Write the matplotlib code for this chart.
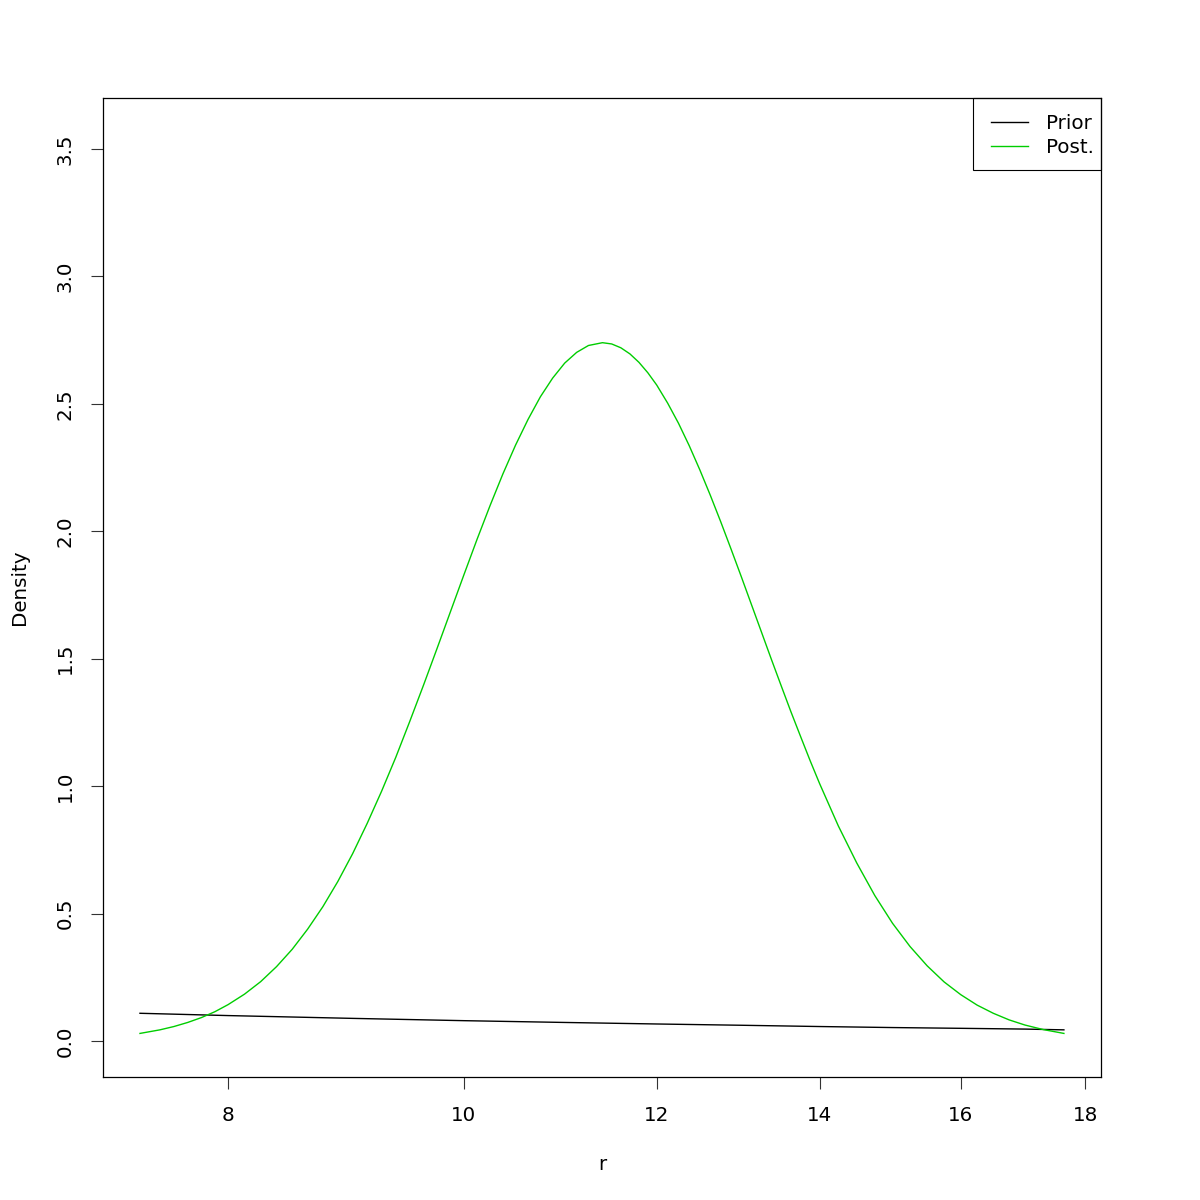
import matplotlib
matplotlib.use("Agg")
import matplotlib.pyplot as plt
from matplotlib.patches import Rectangle
from matplotlib.ticker import FixedLocator, FixedFormatter, NullLocator

# Values
r_post = [7.36, 7.5, 7.6, 7.7, 7.8, 7.9, 8.0, 8.125, 8.25, 8.375, 8.5, 8.625,
          8.75, 8.875, 9.0, 9.125, 9.25, 9.375, 9.5, 9.625, 9.75, 9.875,
          10.0, 10.125, 10.25, 10.375, 10.5, 10.625, 10.75, 10.875, 11.0,
          11.125, 11.25, 11.4, 11.5, 11.6, 11.7, 11.8, 11.9, 12.0, 12.125,
          12.25, 12.375, 12.5, 12.625, 12.75, 12.875, 13.0, 13.125, 13.25,
          13.375, 13.5, 13.625, 13.75, 13.875, 14.0, 14.25, 14.5, 14.75,
          15.0, 15.25, 15.5, 15.75, 16.0, 16.25, 16.5, 16.75, 17.0, 17.3,
          17.64]
dens_post = [0.030, 0.044, 0.057, 0.073, 0.092, 0.115, 0.143, 0.184, 0.233,
             0.292, 0.360, 0.439, 0.527, 0.626, 0.735, 0.854, 0.980, 1.113,
             1.254, 1.397, 1.542, 1.687, 1.830, 1.969, 2.101, 2.225, 2.338,
             2.439, 2.528, 2.601, 2.660, 2.702, 2.729, 2.740, 2.735, 2.720,
             2.696, 2.663, 2.622, 2.574, 2.503, 2.424, 2.336, 2.241, 2.141,
             2.037, 1.930, 1.822, 1.713, 1.605, 1.498, 1.394, 1.292, 1.195,
             1.100, 1.010, 0.844, 0.699, 0.571, 0.462, 0.371, 0.295, 0.232,
             0.182, 0.141, 0.109, 0.083, 0.063, 0.045, 0.030]

r_prior = [7.36, 8.0, 9.0, 10.0, 11.0, 12.0, 13.0, 14.0, 15.0, 16.0, 17.0, 17.64]
dens_prior = [0.109, 0.100, 0.089, 0.080, 0.073, 0.067, 0.062, 0.057,
              0.053, 0.050, 0.047, 0.044]

x_ticks = [8, 10, 12, 14, 16, 18]
y_ticks = [0.0, 0.5, 1.0, 1.5, 2.0, 2.5, 3.0, 3.5]
series_labels = ["Prior", "Post."]

FS = 14.3

fig = plt.figure(figsize=(12, 12), dpi=100)
ax = fig.add_axes([103/1200, 1 - 1077/1200, 998/1200, 979/1200])

ax.plot(r_prior, dens_prior, color="black", lw=1, label=series_labels[0])
ax.plot(r_post, dens_post, color="#00CD00", lw=1, label=series_labels[1])

ax.set_xscale("log")
ax.set_xlim(7.107, 18.27)
ax.set_ylim(-0.141, 3.70)
ax.xaxis.set_major_locator(FixedLocator(x_ticks))
ax.xaxis.set_major_formatter(FixedFormatter([str(t) for t in x_ticks]))
ax.xaxis.set_minor_locator(NullLocator())
ax.set_yticks(y_ticks)
ax.set_yticklabels([f"{t:.1f}" for t in y_ticks], rotation=90, va="center")

ax.tick_params(axis="both", direction="out", length=8.6, width=0.8,
               labelsize=FS, color="#333333")
ax.tick_params(axis="x", pad=12)
ax.tick_params(axis="y", pad=12)
for s in ax.spines.values():
    s.set_linewidth(0.9)

ax.set_xlabel("r", fontsize=FS, labelpad=22)
ax.set_ylabel("Density", fontsize=FS, labelpad=19)

# legend content (no frame) + R-style box drawn separately
leg = ax.legend(loc="upper right", fontsize=FS, frameon=False,
                bbox_to_anchor=(1094/1200, 1 - 114/1200),
                bbox_transform=fig.transFigure, borderpad=0, borderaxespad=0,
                handlelength=1.86, handletextpad=0.9, labelspacing=0.27)
box = Rectangle((973/1200, 1 - 170/1200), 128/1200, 72/1200,
                transform=fig.transFigure, fill=False, edgecolor="black",
                lw=0.8, zorder=5)
fig.add_artist(box)

fig.savefig("out.png", dpi=100)
